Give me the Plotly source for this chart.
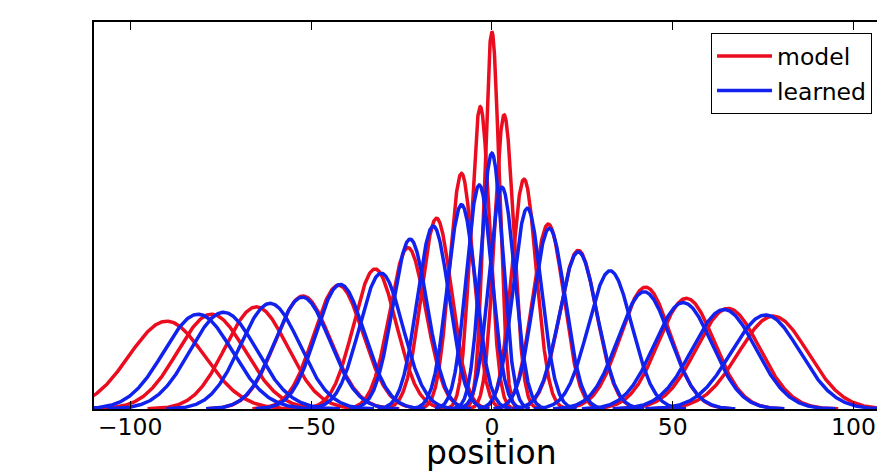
import numpy as np
import plotly.graph_objects as go

# ---- data ----
model_centers = [-89.9, -77.5, -65.1, -52.2, -42.4, -32.3, -23.2, -15.3, -8.4, -3.2,
                 0.0, 3.4, 8.9, 15.6, 23.9, 42.5, 53.8, 65.3, 77.8]
model_heights = [0.227, 0.245, 0.264, 0.292, 0.320, 0.362, 0.417, 0.493, 0.609, 0.781,
                 0.975, 0.760, 0.594, 0.478, 0.410, 0.315, 0.286, 0.260, 0.240]
model_widths = [10.4, 9.4, 8.6, 7.6, 6.8, 5.9, 5.0, 4.2, 3.3, 2.6,
                2.05, 2.65, 3.4, 4.3, 5.1, 6.9, 7.7, 8.7, 9.6]

learned_centers = [-81.2, -74.2, -61.3, -52.4, -41.9, -30.6, -22.6, -16.2, -8.4, -3.5,
                   0.0, 2.8, 9.8, 15.9, 23.9, 32.7, 42.1, 52.9, 64.2, 75.7]
learned_heights = [0.245, 0.250, 0.273, 0.289, 0.322, 0.351, 0.439, 0.473, 0.528, 0.579,
                   0.661, 0.573, 0.519, 0.467, 0.406, 0.357, 0.303, 0.275, 0.257, 0.243]
learned_widths = [9.5, 9.2, 8.2, 7.6, 6.7, 6.0, 4.8, 4.4, 3.9, 3.5,
                  3.0, 3.5, 3.9, 4.4, 5.2, 6.0, 7.2, 8.0, 8.8, 9.5]

x_tick_values = [-100, -50, 0, 50, 100]
x_tick_labels = ["\u2212100", "\u221250", "0", "50", "100"]
x_title = "position"

RED = "rgb(235,12,32)"
BLUE = "rgb(18,34,238)"
FONT = "DejaVu Sans"

fig = go.Figure()


def add_curves(centers, heights, widths, color, name):
    for i, (c, h, s) in enumerate(zip(centers, heights, widths)):
        x = np.linspace(c - 3.5 * s, c + 3.5 * s, 400)
        y = h * np.exp(-0.5 * ((x - c) / s) ** 2)
        fig.add_trace(go.Scatter(
            x=x, y=y, mode="lines", name=name, legendgroup=name,
            showlegend=(i == 0), hoverinfo="skip",
            line=dict(color=color, width=3.5)))


add_curves(model_centers, model_heights, model_widths, RED, "model")
add_curves(learned_centers, learned_heights, learned_widths, BLUE, "learned")

fig.add_annotation(
    x=0, xref="x", y=-0.058, yref="paper", yanchor="top", xanchor="center",
    text=x_title, showarrow=False,
    font=dict(family=FONT, size=33, color="black"))

# the page body adds an 8px margin, so the figure is 8px smaller on each axis
fig.update_layout(
    width=877, height=463,
    margin=dict(l=86, r=0, t=14, b=62, autoexpand=False),
    paper_bgcolor="white", plot_bgcolor="white",
    font=dict(family=FONT, color="black"),
    legend=dict(
        x=0.9836, y=0.971, xanchor="right", yanchor="top",
        bgcolor="white", bordercolor="black", borderwidth=1,
        itemwidth=55, tracegroupgap=1,
        font=dict(family=FONT, size=23.5, color="black"),
    ),
    xaxis=dict(
        range=[-110, 108.7], showgrid=False, zeroline=False, automargin=False,
        showline=True, linecolor="black", linewidth=1.5, mirror="ticks",
        ticks="inside", ticklen=8, tickwidth=1, tickcolor="black",
        tickvals=x_tick_values, ticktext=x_tick_labels, ticklabelstandoff=-4,
        tickfont=dict(family=FONT, size=23.5, color="black"),
    ),
    yaxis=dict(
        range=[0, 1.0], showgrid=False, zeroline=False, automargin=False,
        showline=True, linecolor="black", linewidth=1.5, mirror=False,
        showticklabels=False, ticks="",
    ),
)

fig.write_html("out.html")
